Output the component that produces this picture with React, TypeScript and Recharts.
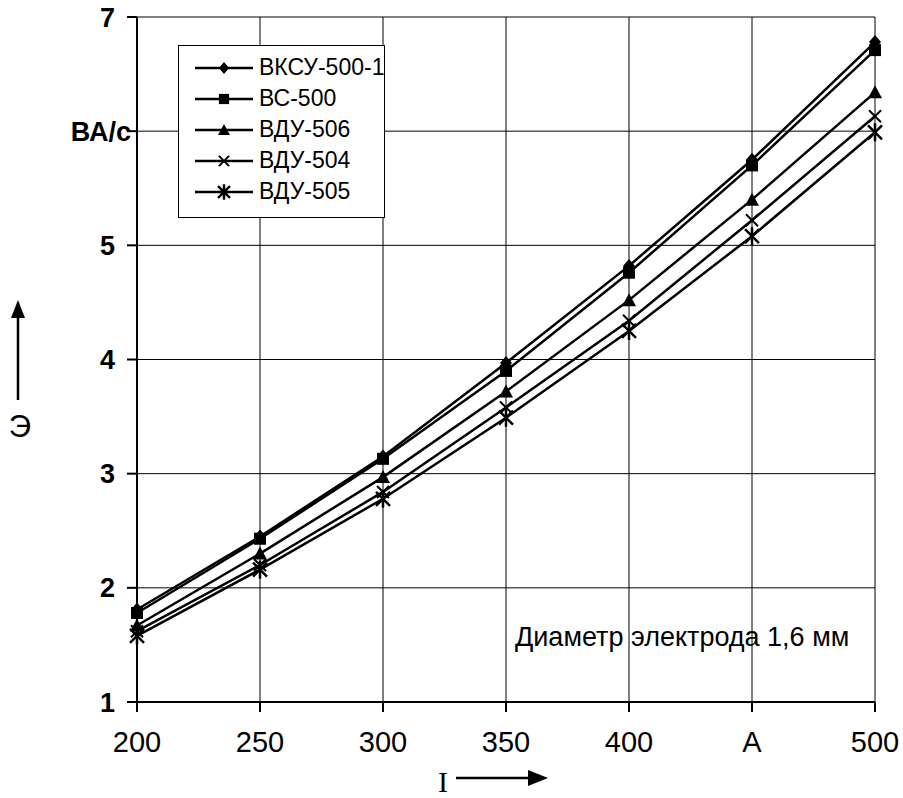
import { LineChart, Line, XAxis, YAxis, CartesianGrid, Legend } from 'recharts';

const currents = [200, 250, 300, 350, 400, 450, 500];
const vksu500 = [1.81, 2.45, 3.15, 3.97, 4.82, 5.75, 6.78];
const vs500 = [1.78, 2.43, 3.13, 3.9, 4.76, 5.7, 6.71];
const vdu506 = [1.67, 2.3, 2.97, 3.72, 4.52, 5.4, 6.34];
const vdu504 = [1.62, 2.2, 2.84, 3.58, 4.34, 5.22, 6.13];
const vdu505 = [1.58, 2.16, 2.78, 3.49, 4.25, 5.08, 5.99];
const xTicks = [200, 250, 300, 350, 400, 450, 500];
const yTicks = [1, 2, 3, 4, 5, 6, 7];

const data = currents.map((I, i) => ({
  I,
  vksu500: vksu500[i],
  vs500: vs500[i],
  vdu506: vdu506[i],
  vdu504: vdu504[i],
  vdu505: vdu505[i],
}));

type Shape = 'diamond' | 'square' | 'triangle' | 'cross' | 'star';

const series: { key: string; name: string; shape: Shape }[] = [
  { key: 'vksu500', name: 'ВКСУ-500-1', shape: 'diamond' },
  { key: 'vs500', name: 'ВС-500', shape: 'square' },
  { key: 'vdu506', name: 'ВДУ-506', shape: 'triangle' },
  { key: 'vdu504', name: 'ВДУ-504', shape: 'cross' },
  { key: 'vdu505', name: 'ВДУ-505', shape: 'star' },
];

const font = '"Liberation Sans", Arial, sans-serif';

const Marker = ({ shape, cx, cy, s = 1 }: { shape: Shape; cx: number; cy: number; s?: number }) => {
  switch (shape) {
    case 'diamond':
      return <polygon points={`${cx},${cy - 7 * s} ${cx + 6 * s},${cy} ${cx},${cy + 7 * s} ${cx - 6 * s},${cy}`} fill="#000" />;
    case 'square':
      return <rect x={cx - 6 * s} y={cy - 6 * s} width={12 * s} height={12 * s} fill="#000" />;
    case 'triangle':
      return <polygon points={`${cx},${cy - 7 * s} ${cx + 7 * s},${cy + 6 * s} ${cx - 7 * s},${cy + 6 * s}`} fill="#000" />;
    case 'cross':
      return (
        <g stroke="#000" strokeWidth={2}>
          <line x1={cx - 6 * s} y1={cy - 6 * s} x2={cx + 6 * s} y2={cy + 6 * s} />
          <line x1={cx - 6 * s} y1={cy + 6 * s} x2={cx + 6 * s} y2={cy - 6 * s} />
        </g>
      );
    default:
      return (
        <g stroke="#000" strokeWidth={2.5}>
          <line x1={cx - 7 * s} y1={cy - 7 * s} x2={cx + 7 * s} y2={cy + 7 * s} />
          <line x1={cx - 7 * s} y1={cy + 7 * s} x2={cx + 7 * s} y2={cy - 7 * s} />
          <line x1={cx} y1={cy - 9 * s} x2={cx} y2={cy + 9 * s} />
        </g>
      );
  }
};

// y tick: the "6" position carries the unit label, pushed toward the axis
const YTick = ({ x, y, payload }: any) => {
  const unit = payload.value === 6;
  return (
    <text
      x={unit ? x + 16 : x}
      y={y}
      dy="0.355em"
      textAnchor="end"
      fill="#000"
      fontSize={27}
      fontWeight="bold"
      fontFamily={font}
    >
      {unit ? 'ВА/с' : payload.value}
    </text>
  );
};

const LegendBox = () => (
  <div
    style={{
      border: '1.5px solid #000',
      background: '#fff',
      width: 207,
      height: 173,
      boxSizing: 'border-box',
      padding: '6px 0 0 0',
      fontFamily: font,
      fontSize: 23,
      color: '#000',
    }}
  >
    {series.map((s) => (
      <div key={s.key} style={{ display: 'flex', alignItems: 'center', height: 31, whiteSpace: 'nowrap' }}>
        <svg width={60} height={24} style={{ marginLeft: 16, marginRight: 4, flex: 'none' }}>
          <line x1={0} y1={12} x2={58} y2={12} stroke="#000" strokeWidth={2.5} />
          <Marker shape={s.shape} cx={29} cy={12} s={0.85} />
        </svg>
        <span>{s.name}</span>
      </div>
    ))}
  </div>
);

export default function App() {
  return (
    <div style={{ position: 'absolute', left: 0, top: 0, width: 903, height: 798, background: '#fff' }}>
      <LineChart
        width={903}
        height={798}
        data={data}
        margin={{ top: 17, right: 28, left: 77, bottom: 46 }}
      >
        <CartesianGrid stroke="#000" strokeWidth={1} />
        <XAxis
          dataKey="I"
          type="number"
          domain={[200, 500]}
          ticks={xTicks}
          tickFormatter={(v) => (v === 450 ? 'A' : String(v))}
          height={50}
          stroke="#000"
          strokeWidth={2}
          tickSize={10}
          tickMargin={19}
          tick={{ fill: '#000', fontSize: 29, fontFamily: font }}
        />
        <YAxis
          type="number"
          domain={[1, 7]}
          ticks={yTicks}
          width={60}
          stroke="#000"
          strokeWidth={2}
          tickSize={10}
          tickMargin={12}
          tick={<YTick />}
        />
        <Legend
          verticalAlign="middle"
          align="center"
          layout="vertical"
          wrapperStyle={{ position: 'absolute', left: 178, top: 45, width: 207, height: 173 }}
          content={() => <LegendBox />}
        />
        {series.map((s) => (
          <Line
            key={s.key}
            dataKey={s.key}
            name={s.name}
            stroke="#000"
            strokeWidth={2.5}
            isAnimationActive={false}
            dot={(p: any) => <Marker key={`${s.key}-${p.index}`} shape={s.shape} cx={p.cx} cy={p.cy} />}
            activeDot={false}
          />
        ))}
      </LineChart>
      <svg
        width={903}
        height={798}
        style={{ position: 'absolute', left: 0, top: 0, pointerEvents: 'none' }}
      >
        <text x={515} y={646} fontSize={27} fontFamily={font} fill="#000">
          Диаметр электрода 1,6 мм
        </text>
        <line x1={18} y1={316} x2={18} y2={400} stroke="#000" strokeWidth={2.5} />
        <polygon points="18,300 11,318 25,318" fill="#000" />
        <text x={20} y={437} textAnchor="middle" fontSize={31} fontFamily={font} fill="#000">
          Э
        </text>
        <text x={443} y={792} textAnchor="middle" fontSize={30} fontFamily='"Liberation Serif", serif' fill="#000">
          I
        </text>
        <line x1={456} y1={778} x2={532} y2={778} stroke="#000" strokeWidth={2.5} />
        <polygon points="548,778 528,770 528,786" fill="#000" />
      </svg>
    </div>
  );
}
